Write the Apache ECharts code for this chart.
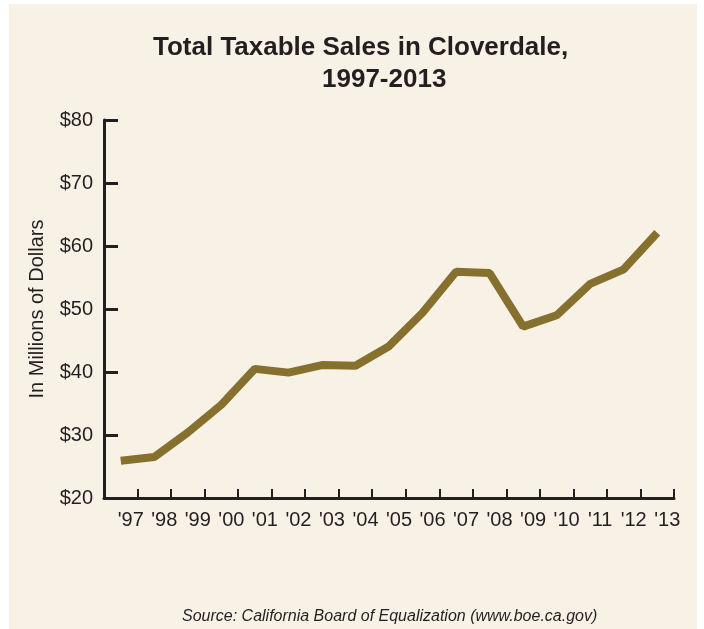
<!DOCTYPE html>
<html>
<head>
<meta charset="utf-8">
<script src="https://cdn.jsdelivr.net/npm/echarts@6/dist/echarts.min.js"></script>
<style>
  html, body { margin: 0; padding: 0; background: #ffffff; }
  #bg { position: absolute; left: 9px; top: 4px; width: 688px; height: 625px; background: #f8f1e6; }
  #chart { position: absolute; left: 0; top: 0; width: 704px; height: 629px; }
</style>
</head>
<body>
<div id="bg"></div>
<div id="chart"></div>
<script>
const years = ["'97","'98","'99","'00","'01","'02","'03","'04","'05","'06","'07","'08","'09","'10","'11","'12","'13"];
const sales = [25.9, 26.5, 30.4, 34.8, 40.5, 39.9, 41.1, 41.0, 44.1, 49.4, 55.9, 55.7, 47.2, 49.0, 54.0, 56.3, 62.1];
const yTicks = { min: 20, max: 80, interval: 10 };
const titleLine1 = 'Total Taxable Sales in Cloverdale,';
const titleLine2 = '1997-2013';
const yName = 'In Millions of Dollars';
const sourceText = 'Source: California Board of Equalization (www.boe.ca.gov)';

const ink = '#231f20';
const font = "'Liberation Sans', Arial, Helvetica, sans-serif";

const chart = echarts.init(document.getElementById('chart'), null, { renderer: 'canvas' });
chart.setOption({
  backgroundColor: 'transparent',
  animation: false,
  title: [
    { text: titleLine1, left: 148, top: 30, textStyle: { fontFamily: font, fontSize: 26, fontWeight: 'bold', color: ink } },
    { text: titleLine2, left: 317, top: 62, textStyle: { fontFamily: font, fontSize: 26, fontWeight: 'bold', color: ink } },
    { text: sourceText, left: 177, top: 604, textStyle: { fontFamily: font, fontSize: 16, fontStyle: 'italic', fontWeight: 'normal', color: ink } }
  ],
  grid: { left: 104, right: 30, top: 120, bottom: 131 },
  xAxis: {
    type: 'category',
    data: years,
    boundaryGap: true,
    axisLine: { show: true, onZero: false, lineStyle: { color: ink, width: 3 } },
    axisTick: { show: true, inside: true, length: 9, interval: 0, alignWithLabel: false, lineStyle: { color: ink, width: 2 } },
    axisLabel: { interval: 0, margin: 12, fontFamily: font, fontSize: 20, color: ink, padding: [0, 0, 0, 20] },
    splitLine: { show: false }
  },
  yAxis: {
    type: 'value',
    min: yTicks.min, max: yTicks.max, interval: yTicks.interval,
    name: yName,
    nameLocation: 'middle',
    nameRotate: 90,
    nameGap: 57,
    nameTextStyle: { fontFamily: font, fontSize: 20, color: ink },
    axisLine: { show: true, lineStyle: { color: ink, width: 3 } },
    axisTick: { show: true, inside: true, length: 14, lineStyle: { color: ink, width: 3 } },
    axisLabel: { margin: 11, fontFamily: font, fontSize: 20, color: ink, padding: [5, 0, 0, 0], formatter: v => '$' + v },
    splitLine: { show: false }
  },
  series: [{
    type: 'line',
    data: sales,
    symbol: 'none',
    lineStyle: { color: '#86702e', width: 8, cap: 'butt', join: 'bevel' }
  }]
});
</script>
</body>
</html>
